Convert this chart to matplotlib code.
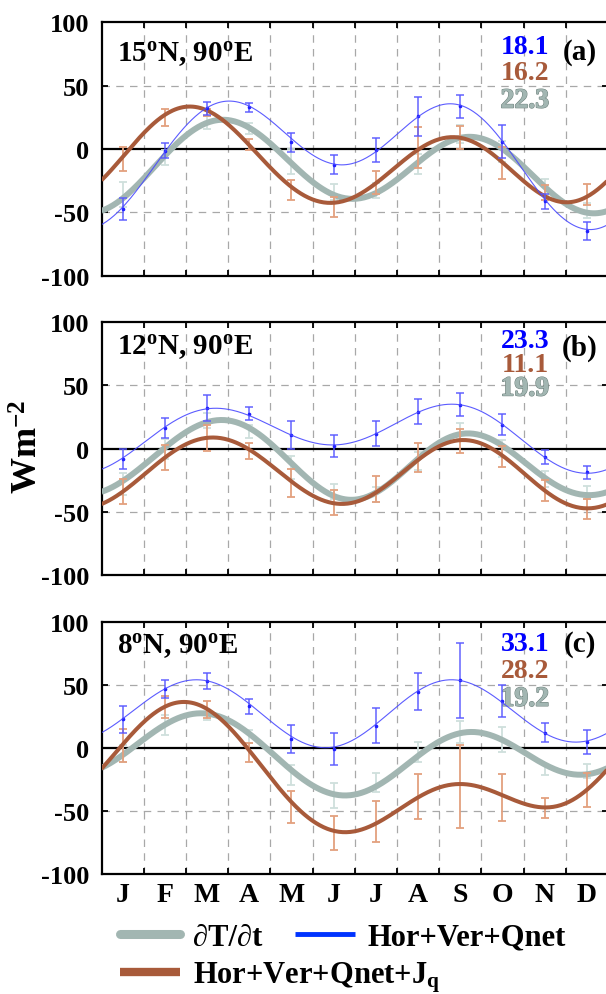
import numpy as np
import matplotlib
matplotlib.use("Agg")
import matplotlib.pyplot as plt
from matplotlib.lines import Line2D
import matplotlib.patheffects as pe

plt.rcParams['font.family'] = ['Liberation Serif', 'DejaVu Serif']
plt.rcParams['font.weight'] = 'bold'
plt.rcParams['mathtext.fontset'] = 'custom'
plt.rcParams['mathtext.rm'] = 'Liberation Serif:bold'
plt.rcParams['mathtext.it'] = 'Liberation Serif:italic:bold'
plt.rcParams['mathtext.bf'] = 'Liberation Serif:bold'

# ---------------- data ----------------
months = ['J', 'F', 'M', 'A', 'M', 'J', 'J', 'A', 'S', 'O', 'N', 'D']
panel_titles = ['15$^{\\mathrm{o}}$N, 90$^{\\mathrm{o}}$E',
                '12$^{\\mathrm{o}}$N, 90$^{\\mathrm{o}}$E',
                '8$^{\\mathrm{o}}$N, 90$^{\\mathrm{o}}$E']
panel_tags = ['(a)', '(b)', '(c)']
rms_blue = ['18.1', '23.3', '33.1']
rms_brown = ['16.2', '11.1', '28.2']
rms_gray = ['22.3', '19.9', '19.2']

# monthly means and error half-widths (error bars)
gray_mean_a = [-36, -7, 21, 16, -10, -34, -33, -12, 12, -2, -30, -48.7]
gray_err_a = [10, 6, 5, 4.5, 10, 6.5, 6, 8, 7, 8, 6.5, 6]
blue_mean_a = [-47.4, -1.3, 32, 33, 5.5, -12.3, -1, 25.8, 33.6, 5.7, -41.4, -65]
blue_err_a = [8.5, 6, 5.2, 3.5, 7.5, 7.2, 9.4, 15.4, 9.4, 13, 6.2, 7.2]
brown_mean_a = [-7.6, 24.7, 28.6, 3.4, -32.6, -45.6, -26.8, 1.3, 8.9, -11, -34.4, -36]
brown_err_a = [9.4, 6.5, 2.6, 4.5, 7.8, 7.8, 9.1, 16, 8.9, 12.4, 5.9, 8.2]

gray_mean_b = [-28, 0, 22, 13.6, -15, -34, -36, -10, 14, 0, -24, -34.5]
gray_err_b = [9, 8, 6, 4.8, 9, 6, 6, 7, 6, 7, 6, 5.2]
blue_mean_b = [-8.4, 16.2, 32.2, 27.7, 11, 2, 11.8, 29.3, 34.8, 19, -6.5, -18.8]
blue_err_b = [7.9, 8.1, 10.5, 5.2, 10.9, 8.5, 10, 10, 9.2, 8.5, 5.6, 5.2]
brown_mean_b = [-34, -7, 8.6, -1.6, -27, -42.7, -32, -7.3, 6.3, -6.3, -33, -47.6]
brown_err_b = [10, 9.7, 10.5, 6.3, 11, 10.2, 10.2, 11.5, 9.4, 8.5, 8.1, 7.9]

gray_mean_c = [-4.5, 18, 25, 8.7, -21.6, -38, -27.6, -3.2, 12.4, 6.8, -17.6, -18.7]
gray_err_c = [6.6, 8, 3.3, 5.3, 7.9, 9.6, 7.5, 7.9, 8.8, 9.9, 4, 5.5]
blue_mean_c = [22.4, 46.6, 53, 33, 6.8, -1, 17.6, 44.5, 53.4, 36.8, 12, 4.5]
blue_err_c = [10.9, 7.5, 6.2, 6, 11.2, 12.5, 14, 14.7, 29.5, 12.8, 7.8, 9.5]
brown_mean_c = [1.8, 32, 30, -4, -47, -68, -58.7, -38.7, -30.8, -39.5, -48, -33.7]
brown_err_c = [13.4, 8.8, 6.8, 7.5, 12.5, 13.5, 16.2, 17.9, 32.9, 18.4, 7.9, 13.4]

# smooth-curve values read at month centres (harmonic fits in the original)
gray_curve_a = [-40, -6.5, 22.5, 16.5, -13, -34, -35, -13, 12, -1.3, -31, -48]
blue_curve_a = [-45.6, -1.3, 31, 35, 7.8, -11.7, -2.6, 26, 34.4, 5.2, -37.8, -65]
brown_curve_a = [-8, 29, 30, 1.3, -27, -44.8, -26, -1.3, 10.4, -13, -35, -38]

gray_curve_b = [-26.7, -0.5, 23, 16, -13.6, -34.5, -36, -9.7, 14.5, 0.8, -24, -34.5]
blue_curve_b = [-8.4, 17.8, 31.4, 25.7, 11.3, 2.6, 11.8, 28.8, 34.8, 19, -7, -18.8]
brown_curve_b = [-34.5, -7, 8.6, -0.5, -26.7, -42, -36, -8.4, 6.8, -5.8, -33, -47]

gray_curve_c = [-5.8, 18, 27, 11.3, -17.6, -38, -29, -8.4, 12.6, 6, -13.7, -20.8]
blue_curve_c = [23, 46.8, 53.4, 34, 10, 0, 18.4, 45.5, 53.4, 35, 12.6, 4.7]
brown_curve_c = [4.7, 31, 31, -1.8, -42.6, -67.6, -58.4, -40, -30, -36, -48, -34.7]

panels = [
    dict(gm=gray_mean_a, ge=gray_err_a, bm=blue_mean_a, be=blue_err_a,
         rm=brown_mean_a, re=brown_err_a, gc=gray_curve_a, bc=blue_curve_a, rc=brown_curve_a),
    dict(gm=gray_mean_b, ge=gray_err_b, bm=blue_mean_b, be=blue_err_b,
         rm=brown_mean_b, re=brown_err_b, gc=gray_curve_b, bc=blue_curve_b, rc=brown_curve_b),
    dict(gm=gray_mean_c, ge=gray_err_c, bm=blue_mean_c, be=blue_err_c,
         rm=brown_mean_c, re=brown_err_c, gc=gray_curve_c, bc=blue_curve_c, rc=brown_curve_c),
]

# ---------------- style ----------------
GRAY = '#a2b6b2'
GRAY_EB = '#cfdfdc'
GRAY_TXT_EDGE = '#6f827d'
BROWN = '#a85a3a'
BROWN_EB = '#e3a07e'
BLUE = '#4a4aff'
BLUE_EB = '#5a5aff'
BLUE_TXT = '#0000ff'
FS = 19

tcent = np.arange(12) + 0.5
xs = np.linspace(0, 12, 400)


def harmonic_fit(vals, nh=3):
    w = 2 * np.pi / 12.0
    cols = [np.ones_like(tcent)]
    for k in range(1, nh + 1):
        cols += [np.cos(k * w * tcent), np.sin(k * w * tcent)]
    A = np.column_stack(cols)
    coef, *_ = np.linalg.lstsq(A, np.asarray(vals, float), rcond=None)
    out = np.full_like(xs, coef[0])
    for k in range(1, nh + 1):
        out += coef[2 * k - 1] * np.cos(k * w * xs) + coef[2 * k] * np.sin(k * w * xs)
    return out


fig = plt.figure(figsize=(6.06, 9.95), dpi=100)
left = 101.5 / 606
width = 506.4 / 606
tops = [23.3, 323.3, 622.7]
heights = [253.4, 252.7, 252.0]
title_y = [0.875, 0.905, 0.905]
tag_y = [0.885, 0.900, 0.913]
num_y = [[0.904, 0.802, 0.689], [0.927, 0.832, 0.736], [0.915, 0.807, 0.692]]

for i, p in enumerate(panels):
    b = 1 - (tops[i] + heights[i]) / 995
    ax = fig.add_axes([left, b, width, heights[i] / 995])
    ax.set_xlim(0, 12)
    ax.set_ylim(-100, 100)

    # grid
    for xv in range(1, 12):
        ax.axvline(xv, color='#a8a8a8', lw=0.9, ls=(0, (6, 5)), zorder=0)
    for yv in (-50, 50):
        ax.axhline(yv, color='#a8a8a8', lw=0.9, ls=(0, (6, 5)), zorder=0)
    ax.axhline(0, color='black', lw=1.6, zorder=1)

    ekw = dict(fmt='none', elinewidth=1.3, capsize=2.6, capthick=1.3)
    ax.errorbar(tcent, p['gm'], yerr=p['ge'], ecolor=GRAY_EB, zorder=2, **ekw)
    ax.plot(xs, harmonic_fit(p['gc']), color=GRAY, lw=4.3, zorder=3, solid_capstyle='butt')
    ax.errorbar(tcent, p['rm'], yerr=p['re'], ecolor=BROWN_EB, zorder=4, **ekw)
    ax.plot(xs, harmonic_fit(p['rc']), color=BROWN, lw=2.9, zorder=5, solid_capstyle='butt')
    ax.errorbar(tcent, p['bm'], yerr=p['be'], ecolor=BLUE_EB, zorder=6, alpha=0.8, **ekw)
    ax.plot(tcent, p['bm'], ls='none', marker='o', ms=1.6, color='#2020ff', zorder=6)
    ax.plot(xs, harmonic_fit(p['bc']), color=BLUE, lw=0.8, zorder=7, alpha=0.9)

    # ticks
    ax.set_xticks(np.arange(0, 13))
    ax.set_xticklabels([])
    ax.set_xticks(tcent, minor=True)
    if i == 2:
        ax.set_xticklabels(months, minor=True, fontsize=20, fontweight='bold')
    ax.tick_params(axis='x', which='minor', length=0, pad=6)
    ax.set_yticks([-100, -50, 0, 50, 100])
    ax.set_yticklabels(['-100', '-50', '0', '50', '100'], fontsize=FS, fontweight='bold')
    ax.tick_params(which='major', direction='in', top=True, right=True,
                   length=4, width=1.3)
    ax.tick_params(axis='y', pad=9)
    for s in ax.spines.values():
        s.set_linewidth(1.6)

    ax.text(0.030, title_y[i], panel_titles[i], transform=ax.transAxes,
            fontsize=21, fontweight='bold', ha='left', va='center')
    ax.text(0.945, tag_y[i], panel_tags[i], transform=ax.transAxes,
            fontsize=21, fontweight='bold', ha='center', va='center')
    ax.text(0.884, num_y[i][0], rms_blue[i], transform=ax.transAxes, color=BLUE_TXT,
            fontsize=FS + 1, fontweight='bold', ha='right', va='center')
    ax.text(0.884, num_y[i][1], rms_brown[i], transform=ax.transAxes, color=BROWN,
            fontsize=FS + 1, fontweight='bold', ha='right', va='center')
    ax.text(0.884, num_y[i][2], rms_gray[i], transform=ax.transAxes, color=GRAY,
            fontsize=FS + 1, fontweight='bold', ha='right', va='center',
            path_effects=[pe.withStroke(linewidth=1.0, foreground=GRAY_TXT_EDGE),
                          pe.Normal()])

fig.text(0.048, 0.551, 'Wm$^{\\mathrm{-2}}$', rotation=90, fontsize=26,
         fontweight='bold', ha='center', va='center')

# legend
h_gray = Line2D([], [], color=GRAY, lw=6.5, solid_capstyle='round')
h_blue = Line2D([], [], color='#0033ff', lw=3.5, solid_capstyle='butt')
h_brown = Line2D([], [], color=BROWN, lw=6.0, solid_capstyle='butt')
lkw = dict(frameon=False, borderpad=0, borderaxespad=0, handlelength=1.96,
           handletextpad=0.42, columnspacing=1.08, prop={'size': 22, 'weight': 'bold'})
fig.legend([h_gray, h_blue], ['\u2202T/\u2202t', 'Hor+Ver+Qnet'], ncol=2,
           loc='center left', bbox_to_anchor=(0.198, 0.057), **lkw)
fig.legend([h_brown], ['Hor+Ver+Qnet+J$_{\\mathrm{q}}$'], ncol=1,
           loc='center left', bbox_to_anchor=(0.198, 0.017), **lkw)

fig.savefig('out.png', dpi=100)
